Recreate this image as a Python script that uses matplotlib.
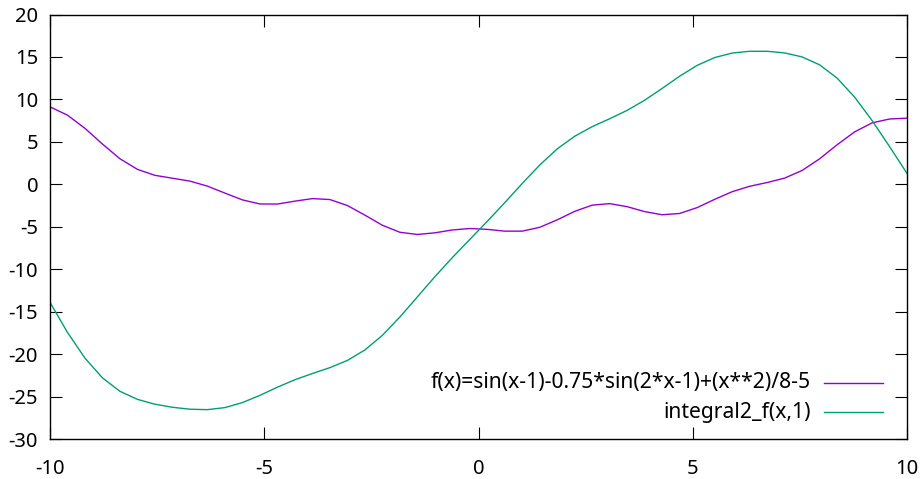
import matplotlib
matplotlib.use("Agg")
import matplotlib.pyplot as plt
from matplotlib.lines import Line2D

# sample positions (50 samples over [-10, 10])
x_start, x_end, n_samples = -10.0, 10.0, 50
x_vals = [x_start + (x_end - x_start) * i / (n_samples - 1) for i in range(n_samples)]

f_vals = [9.13, 8.15, 6.60, 4.75, 3.02, 1.77, 1.07, 0.73, 0.39, -0.20,
          -1.02, -1.82, -2.30, -2.31, -1.97, -1.67, -1.78, -2.48, -3.61, -4.80,
          -5.63, -5.89, -5.70, -5.36, -5.19, -5.29, -5.50, -5.50, -5.05, -4.17,
          -3.17, -2.44, -2.26, -2.62, -3.20, -3.57, -3.42, -2.73, -1.76, -0.86,
          -0.22, 0.22, 0.74, 1.64, 3.01, 4.66, 6.18, 7.24, 7.70, 7.80]

integral_vals = [-13.88, -17.42, -20.45, -22.77, -24.35, -25.30, -25.87, -26.23, -26.46, -26.51,
                 -26.27, -25.68, -24.83, -23.87, -22.99, -22.26, -21.57, -20.72, -19.49, -17.77,
                 -15.62, -13.25, -10.87, -8.62, -6.48, -4.35, -2.15, 0.11, 2.28, 4.18,
                 5.67, 6.80, 7.73, 8.72, 9.91, 11.30, 12.74, 14.01, 14.93, 15.46,
                 15.67, 15.67, 15.48, 15.01, 14.08, 12.52, 10.29, 7.53, 4.46, 1.30]

labels = ["f(x)=sin(x-1)-0.75*sin(2*x-1)+(x**2)/8-5", "integral2_f(x,1)"]
colors = ["#9400d3", "#009e73"]

x_ticks = [-10, -5, 0, 5, 10]
y_ticks = [-30, -25, -20, -15, -10, -5, 0, 5, 10, 15, 20]

plt.rcParams['font.family'] = ['Noto Sans', 'DejaVu Sans']
FS = 14.5
FS_KEY = 15.2

W, H, DPI = 923, 479, 100
fig = plt.figure(figsize=(W / DPI, H / DPI), dpi=DPI)
L, R, T, B = 50, 907, 14.5, 439.3
ax = fig.add_axes([L / W, 1 - B / H, (R - L) / W, (B - T) / H])

ax.plot(x_vals, f_vals, color=colors[0], lw=1.0, solid_joinstyle='miter')
ax.plot(x_vals, integral_vals, color=colors[1], lw=1.0, solid_joinstyle='miter')

ax.set_xlim(-10, 10)
ax.set_ylim(-30, 20)
ax.set_xticks(x_ticks)
ax.set_yticks(y_ticks)
ax.set_xticklabels([str(t) for t in x_ticks])
ax.set_yticklabels([str(t) for t in y_ticks])
ax.tick_params(direction='in', length=8.6, width=0.8, top=True, right=True,
               labelsize=FS, colors='black')
ax.tick_params(axis='y', pad=8.5)
ax.tick_params(axis='x', pad=14.5)
for s in ax.spines.values():
    s.set_linewidth(1.0)
    s.set_color('black')

# key (bottom right, gnuplot style: text then sample line)
key_text_right = 811.0
key_line = (824, 883)
key_rows = [382.7, 412.3]
for lab, col, yy in zip(labels, colors, key_rows):
    fig.text(key_text_right / W, 1 - yy / H, lab, ha='right', va='center', fontsize=FS_KEY)
    fig.add_artist(Line2D([key_line[0] / W, key_line[1] / W], [1 - yy / H, 1 - yy / H],
                          transform=fig.transFigure, color=col, lw=1.0))

fig.savefig("out.png", dpi=DPI)
